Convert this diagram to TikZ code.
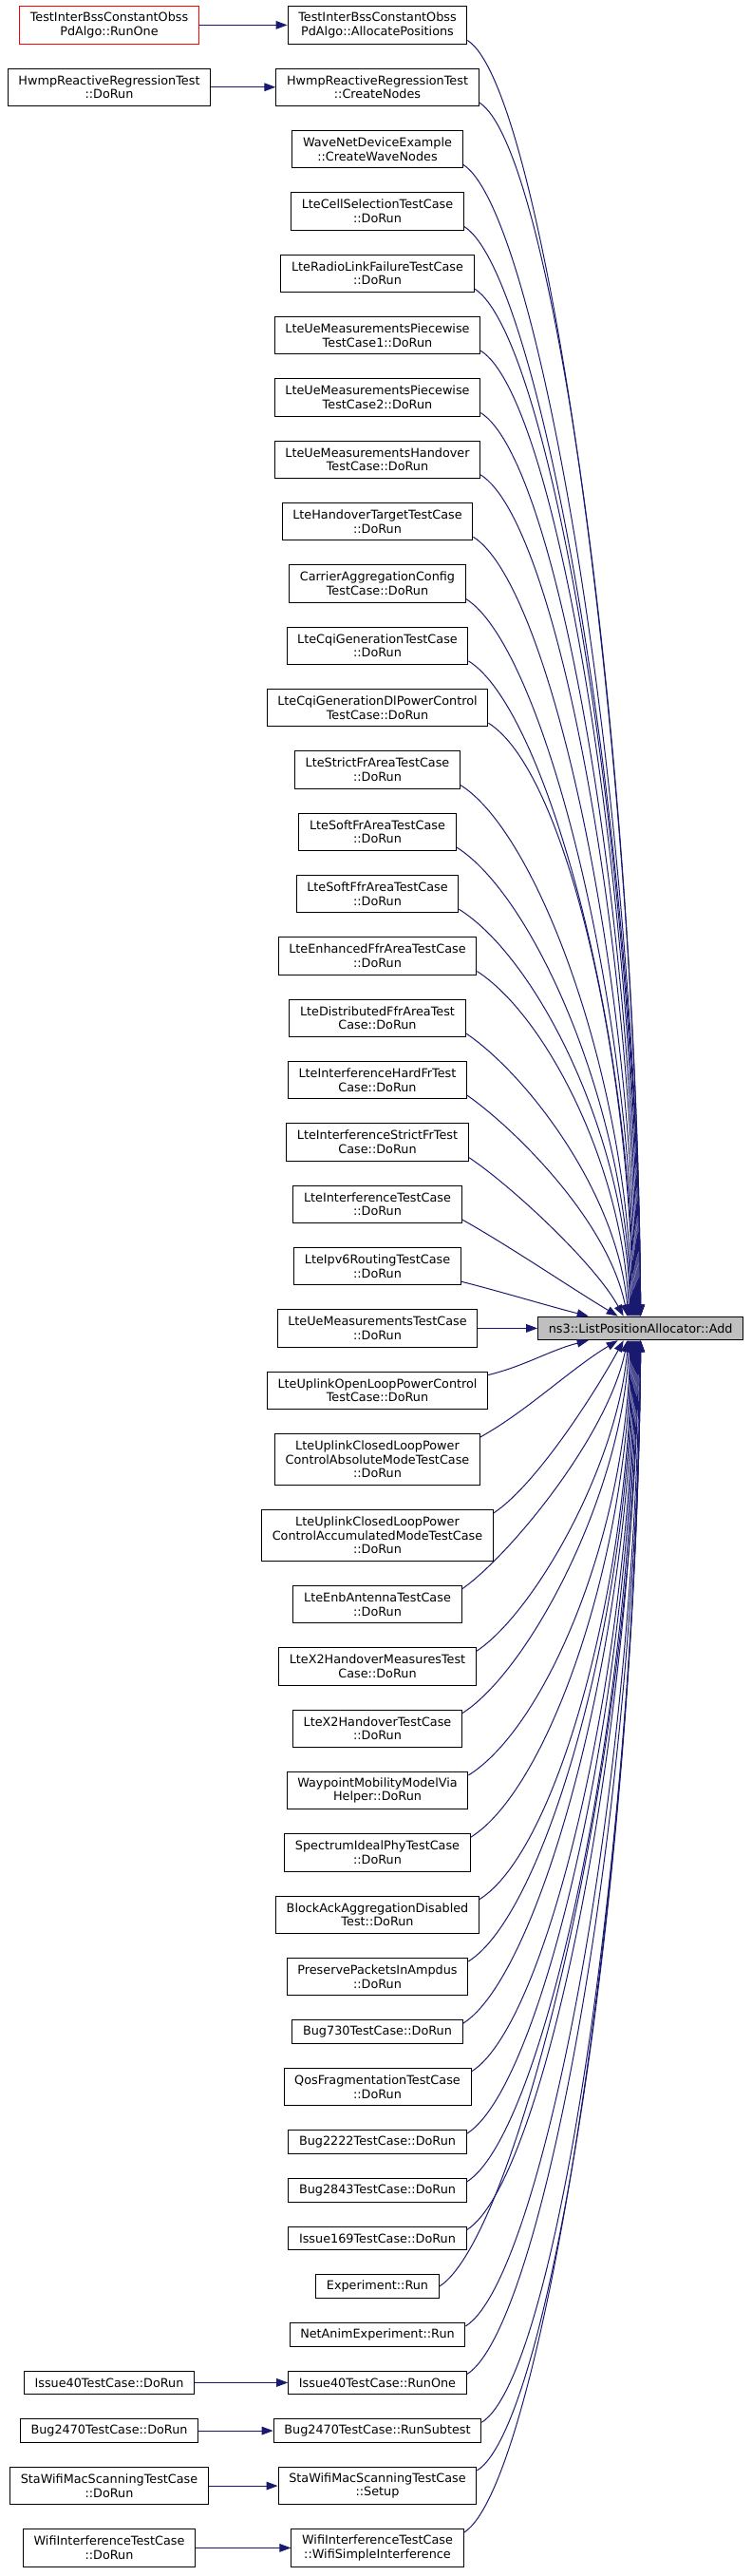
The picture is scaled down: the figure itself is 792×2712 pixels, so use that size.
\documentclass[tikz,border=0pt]{standalone}
\usepackage{fontspec}
\setmainfont{DejaVu Sans}
\usepackage{xcolor}
\usepackage{tikz}
\usetikzlibrary{arrows.meta,positioning,calc}
\definecolor{edgeblue}{RGB}{25,25,112}
\definecolor{addgrey}{RGB}{191,191,191}

\begin{document}
\begin{tikzpicture}[
    x=0.75pt, y=-0.75pt,
    node distance=18.75pt,
    fnbox/.style={draw, line width=0.75pt, fill=white, align=center, inner xsep=8.4pt, inner ysep=2pt, minimum height=18.5pt, font=\fontsize{9.6pt}{11pt}\selectfont},
    fnbox2/.style={fnbox, minimum height=29.5pt},
    fnbox3/.style={fnbox, minimum height=40.5pt},
    arr/.style={-{Triangle[length=9pt, width=6.5pt]}, line width=0.75pt, draw=edgeblue}
]
\useasboundingbox (0,0) rectangle (792,2712);

\node[fnbox2] (m1) at (397.5,26.4) {TestInterBssConstantObss\\PdAlgo::AllocatePositions};
\node[fnbox2, below=of m1] (m2) {HwmpReactiveRegressionTest\\::CreateNodes};
\node[fnbox2, below=of m2] (m3) {WaveNetDeviceExample\\::CreateWaveNodes};
\node[fnbox2, below=of m3] (m4) {LteCellSelectionTestCase\\::DoRun};
\node[fnbox2, below=of m4] (m5) {LteRadioLinkFailureTestCase\\::DoRun};
\node[fnbox2, below=of m5] (m6) {LteUeMeasurementsPiecewise\\TestCase1::DoRun};
\node[fnbox2, below=of m6] (m7) {LteUeMeasurementsPiecewise\\TestCase2::DoRun};
\node[fnbox2, below=of m7] (m8) {LteUeMeasurementsHandover\\TestCase::DoRun};
\node[fnbox2, below=of m8] (m9) {LteHandoverTargetTestCase\\::DoRun};
\node[fnbox2, below=of m9] (m10) {CarrierAggregationConfig\\TestCase::DoRun};
\node[fnbox2, below=of m10] (m11) {LteCqiGenerationTestCase\\::DoRun};
\node[fnbox2, below=of m11] (m12) {LteCqiGenerationDlPowerControl\\TestCase::DoRun};
\node[fnbox2, below=of m12] (m13) {LteStrictFrAreaTestCase\\::DoRun};
\node[fnbox2, below=of m13] (m14) {LteSoftFrAreaTestCase\\::DoRun};
\node[fnbox2, below=of m14] (m15) {LteSoftFfrAreaTestCase\\::DoRun};
\node[fnbox2, below=of m15] (m16) {LteEnhancedFfrAreaTestCase\\::DoRun};
\node[fnbox2, below=of m16] (m17) {LteDistributedFfrAreaTest\\Case::DoRun};
\node[fnbox2, below=of m17] (m18) {LteInterferenceHardFrTest\\Case::DoRun};
\node[fnbox2, below=of m18] (m19) {LteInterferenceStrictFrTest\\Case::DoRun};
\node[fnbox2, below=of m19] (m20) {LteInterferenceTestCase\\::DoRun};
\node[fnbox2, below=of m20] (m21) {LteIpv6RoutingTestCase\\::DoRun};
\node[fnbox2, below=of m21] (m22) {LteUeMeasurementsTestCase\\::DoRun};
\node[fnbox2, below=of m22] (m23) {LteUplinkOpenLoopPowerControl\\TestCase::DoRun};
\node[fnbox3, below=of m23] (m24) {LteUplinkClosedLoopPower\hfill\\ControlAbsoluteModeTestCase\\::DoRun};
\node[fnbox3, below=of m24] (m25) {LteUplinkClosedLoopPower\hfill\\ControlAccumulatedModeTestCase\\::DoRun};
\node[fnbox2, below=of m25] (m26) {LteEnbAntennaTestCase\\::DoRun};
\node[fnbox2, below=of m26] (m27) {LteX2HandoverMeasuresTest\\Case::DoRun};
\node[fnbox2, below=of m27] (m28) {LteX2HandoverTestCase\\::DoRun};
\node[fnbox2, below=of m28] (m29) {WaypointMobilityModelVia\\Helper::DoRun};
\node[fnbox2, below=of m29] (m30) {SpectrumIdealPhyTestCase\\::DoRun};
\node[fnbox2, below=of m30] (m31) {BlockAckAggregationDisabled\\Test::DoRun};
\node[fnbox2, below=of m31] (m32) {PreservePacketsInAmpdus\\::DoRun};
\node[fnbox, below=of m32] (m33) {Bug730TestCase::DoRun};
\node[fnbox2, below=of m33] (m34) {QosFragmentationTestCase\\::DoRun};
\node[fnbox, below=of m34] (m35) {Bug2222TestCase::DoRun};
\node[fnbox, below=of m35] (m36) {Bug2843TestCase::DoRun};
\node[fnbox, below=of m36] (m37) {Issue169TestCase::DoRun};
\node[fnbox, below=of m37] (m38) {Experiment::Run};
\node[fnbox, below=of m38] (m39) {NetAnimExperiment::Run};
\node[fnbox, below=of m39] (m40) {Issue40TestCase::RunOne};
\node[fnbox, below=of m40] (m41) {Bug2470TestCase::RunSubtest};
\node[fnbox2, below=of m41] (m42) {StaWifiMacScanningTestCase\\::Setup};
\node[fnbox2, below=of m42] (m43) {WifiInterferenceTestCase\\::WifiSimpleInterference};

\node[fnbox, fill=addgrey, right=47.1pt of m22] (add) {ns3::ListPositionAllocator::Add};

\node[fnbox2, draw=red] (l1) at (115,0 |- m1) {TestInterBssConstantObss\\PdAlgo::RunOne};
\node[fnbox2] (l2) at (115,0 |- m2) {HwmpReactiveRegressionTest\\::DoRun};
\node[fnbox] (l40) at (115,0 |- m40) {Issue40TestCase::DoRun};
\node[fnbox] (l41) at (115,0 |- m41) {Bug2470TestCase::DoRun};
\node[fnbox2] (l42) at (115,0 |- m42) {StaWifiMacScanningTestCase\\::DoRun};
\node[fnbox2] (l43) at (115,0 |- m43) {WifiInterferenceTestCase\\::DoRun};

\draw[arr] (l1) -- (m1);
\draw[arr] (l2) -- (m2);
\draw[arr] (l40) -- (m40);
\draw[arr] (l41) -- (m41);
\draw[arr] (l42) -- (m42);
\draw[arr] (l43) -- (m43);

\draw[arr] ($(m1.south east)+(0,-4)$) .. controls +(80,50) and +(-4,-604) .. (add.north);
\draw[arr] ($(m2.south east)+(0,-4)$) .. controls +(80,50) and +(-4,-575) .. (add.north);
\draw[arr] ($(m3.south east)+(0,-4)$) .. controls +(80,50) and +(-4,-545) .. (add.north);
\draw[arr] ($(m4.south east)+(0,-4)$) .. controls +(80,50) and +(-4,-516) .. (add.north);
\draw[arr] ($(m5.south east)+(0,-4)$) .. controls +(80,50) and +(-4,-486) .. ($(add.north)+(-1,0)$);
\draw[arr] ($(m6.south east)+(0,-4)$) .. controls +(80,50) and +(-4,-457) .. ($(add.north)+(-2,0)$);
\draw[arr] ($(m7.south east)+(0,-4)$) .. controls +(80,50) and +(-4,-428) .. ($(add.north)+(-3,0)$);
\draw[arr] ($(m8.south east)+(0,-4)$) .. controls +(80,50) and +(-4,-398) .. ($(add.north)+(-4,0)$);
\draw[arr] ($(m9.south east)+(0,-4)$) .. controls +(80,50) and +(-4,-369) .. ($(add.north)+(-5,0)$);
\draw[arr] ($(m10.south east)+(0,-4)$) .. controls +(80,50) and +(-4,-340) .. ($(add.north)+(-6,0)$);
\draw[arr] ($(m11.south east)+(0,-4)$) .. controls +(80,50) and +(-4,-310) .. ($(add.north)+(-7,0)$);
\draw[arr] ($(m12.south east)+(0,-4)$) .. controls +(80,50) and +(-4,-281) .. ($(add.north)+(-8,0)$);
\draw[arr] ($(m13.south east)+(0,-4)$) .. controls +(80,50) and +(-4,-252) .. ($(add.north)+(-9,0)$);
\draw[arr] ($(m14.south east)+(0,-4)$) .. controls +(80,50) and +(-4,-222) .. ($(add.north)+(-10,0)$);
\draw[arr] ($(m15.south east)+(0,-4)$) .. controls +(80,50) and +(-4,-193) .. ($(add.north)+(-11,0)$);
\draw[arr] ($(m16.south east)+(0,-4)$) .. controls +(70,45) and +(-8,-163) .. ($(add.north)+(-12,0)$);
\draw[arr] ($(m17.south east)+(0,-4)$) .. controls +(60,40) and +(-12,-134) .. ($(add.north)+(-13,0)$);
\draw[arr] ($(m18.south east)+(0,-4)$) .. controls +(50,35) and +(-20,-100) .. ($(add.north)+(-14,0)$);
\draw[arr] ($(m19.south east)+(0,-4)$) .. controls +(45,30) and +(-30,-55) .. ($(add.north)+(-18,0)$);
\draw[arr] ($(m20.south east)+(0,-4)$) .. controls +(50,28) and +(-50,-30) .. ($(add.north)+(-24,0)$);
\draw[arr] ($(m21.south east)+(0,-4)$) .. controls +(40,10) and +(-40,-10) .. ($(add.north)+(-55,0)$);
\draw[arr] (m22) -- (add);
\draw[arr] ($(m23.north east)+(0,4)$) .. controls +(40,-10) and +(-40,10) .. ($(add.south)+(-55,0)$);
\draw[arr] ($(m24.north east)+(0,4)$) .. controls +(50,-28) and +(-50,30) .. ($(add.south)+(-24,0)$);
\draw[arr] ($(m25.north east)+(0,4)$) .. controls +(45,-30) and +(-30,55) .. ($(add.south)+(-18,0)$);
\draw[arr] ($(m26.north east)+(0,4)$) .. controls +(50,-35) and +(-20,100) .. ($(add.south)+(-14,0)$);
\draw[arr] ($(m27.north east)+(0,4)$) .. controls +(60,-40) and +(-12,134) .. ($(add.south)+(-13,0)$);
\draw[arr] ($(m28.north east)+(0,4)$) .. controls +(70,-45) and +(-8,163) .. ($(add.south)+(-12,0)$);
\draw[arr] ($(m29.north east)+(0,4)$) .. controls +(80,-50) and +(-4,206) .. ($(add.south)+(-11,0)$);
\draw[arr] ($(m30.north east)+(0,4)$) .. controls +(80,-50) and +(-4,235) .. ($(add.south)+(-10,0)$);
\draw[arr] ($(m31.north east)+(0,4)$) .. controls +(80,-50) and +(-4,265) .. ($(add.south)+(-9,0)$);
\draw[arr] ($(m32.north east)+(0,4)$) .. controls +(80,-50) and +(-4,294) .. ($(add.south)+(-8,0)$);
\draw[arr] ($(m33.north east)+(0,4)$) .. controls +(80,-50) and +(-4,324) .. ($(add.south)+(-7,0)$);
\draw[arr] ($(m34.north east)+(0,4)$) .. controls +(80,-50) and +(-4,347) .. ($(add.south)+(-6,0)$);
\draw[arr] ($(m35.north east)+(0,4)$) .. controls +(80,-50) and +(-4,376) .. ($(add.south)+(-5,0)$);
\draw[arr] ($(m36.north east)+(0,4)$) .. controls +(80,-50) and +(-4,399) .. ($(add.south)+(-4,0)$);
\draw[arr] ($(m37.north east)+(0,4)$) .. controls +(80,-50) and +(-4,422) .. ($(add.south)+(-3,0)$);
\draw[arr] (m38.east) .. controls +(80,-50) and +(-4,444) .. ($(add.south)+(-2,0)$);
\draw[arr] ($(m39.north east)+(0,4)$) .. controls +(80,-50) and +(-4,467) .. ($(add.south)+(-1,0)$);
\draw[arr] ($(m40.north east)+(0,4)$) .. controls +(80,-50) and +(-4,490) .. (add.south);
\draw[arr] ($(m41.north east)+(0,4)$) .. controls +(80,-50) and +(-4,513) .. (add.south);
\draw[arr] ($(m42.north east)+(0,4)$) .. controls +(80,-50) and +(-4,536) .. (add.south);
\draw[arr] ($(m43.north east)+(0,4)$) .. controls +(80,-50) and +(-4,565) .. (add.south);
\end{tikzpicture}
\end{document}
